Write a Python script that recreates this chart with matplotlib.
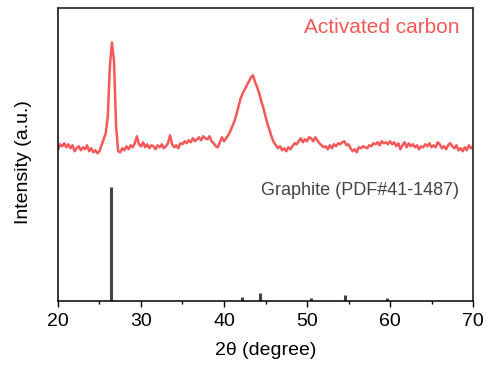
import numpy as np
import matplotlib
matplotlib.use("Agg")
import matplotlib.pyplot as plt

plt.rcParams['font.family'] = ['Liberation Sans', 'DejaVu Sans']

# activated carbon pattern, sampled every 0.25 degree from 20 to 70 (arb. units)
ac_start, ac_step = 20.0, 0.25
ac_intensity = [
    152, 157, 155, 158, 154, 157, 153, 156, 150, 153,   # 20.00 - 22.25
    155, 151, 154, 152, 156, 150, 153, 149, 151, 148,   # 22.50 - 24.75
    150, 156, 162, 168, 185, 235, 259, 240, 175, 150,   # 25.00 - 27.25
    149, 153, 151, 155, 152, 156, 154, 158, 165, 157,   # 27.50 - 29.75
    155, 159, 154, 157, 153, 156, 155, 152, 156, 154,   # 30.00 - 32.25
    157, 153, 155, 158, 166, 157, 154, 156, 153, 158,   # 32.50 - 34.75
    157, 160, 158, 161, 159, 163, 160, 162, 164, 161,   # 35.00 - 37.25
    165, 163, 162, 165, 160, 158, 155, 154, 159, 164,   # 37.50 - 39.75
    160, 163, 166, 170, 175, 180, 187, 195, 203, 208,   # 40.00 - 42.25
    212, 216, 220, 224, 226, 219, 214, 208, 200, 193,   # 42.50 - 44.75
    185, 177, 171, 164, 159, 156, 153, 155, 151, 153,   # 45.00 - 47.25
    150, 154, 152, 155, 158, 157, 160, 163, 159, 162,   # 47.50 - 49.75
    160, 164, 163, 160, 164, 161, 158, 156, 154, 155,   # 50.00 - 52.25
    152, 156, 153, 157, 155, 158, 157, 159, 160, 156,   # 52.50 - 54.75
    157, 153, 150, 152, 149, 154, 153, 155, 154, 153,   # 55.00 - 57.25
    156, 155, 158, 157, 159, 156, 160, 158, 159, 157,   # 57.50 - 59.75
    160, 157, 159, 155, 158, 152, 156, 159, 154, 158,   # 60.00 - 62.25
    155, 157, 154, 156, 152, 155, 154, 157, 155, 158,   # 62.50 - 64.75
    154, 156, 154, 159, 157, 153, 155, 152, 156, 158,   # 65.00 - 67.25
    155, 153, 156, 151, 153, 150, 154, 151, 156, 153,   # 67.50 - 69.75
    155,                                                # 70.00
]
two_theta = ac_start + ac_step * np.arange(len(ac_intensity))

# graphite reference lines (PDF#41-1487)
ref_pos = [26.38, 42.22, 44.39, 50.45, 54.54, 59.69]
ref_height = [114, 4, 8, 3, 6, 3]

red = '#F45959'
gray = '#444444'

fig = plt.figure(figsize=(4.89, 3.83), dpi=100)
ax = fig.add_axes([0.1186, 0.2141, 0.8487, 0.7663])

ax.plot(two_theta, ac_intensity, color=red, lw=1.8)
ax.vlines(ref_pos, 0, ref_height, color=gray, lw=2.2)

ax.set_xlim(20, 70)
ax.set_ylim(0, 294)
ax.set_xticks(np.arange(20, 71, 10))
ax.set_xticks(np.arange(25, 70, 10), minor=True)
ax.set_yticks([])
ax.tick_params(axis='x', which='major', direction='out', length=4.5, width=1, labelsize=14, pad=4)
ax.tick_params(axis='x', which='minor', direction='out', length=2.2, width=1)

for side in ['left', 'bottom']:
    ax.spines[side].set_linewidth(1.1)
for side in ['top', 'right']:
    ax.spines[side].set_linewidth(1.3)
    ax.spines[side].set_color('#333333')

ax.set_xlabel('2θ (degree)', fontsize=14, labelpad=9)
ax.set_ylabel('Intensity (a.u.)', fontsize=14)
ax.yaxis.set_label_coords(-0.062, 0.473)

ax.text(0.967, 0.932, 'Activated carbon', transform=ax.transAxes, ha='right', va='center',
        fontsize=15, color=red)
ax.text(0.967, 0.375, 'Graphite (PDF#41-1487)', transform=ax.transAxes, ha='right', va='center',
        fontsize=13, color=gray)

fig.savefig('out.png', dpi=100)
